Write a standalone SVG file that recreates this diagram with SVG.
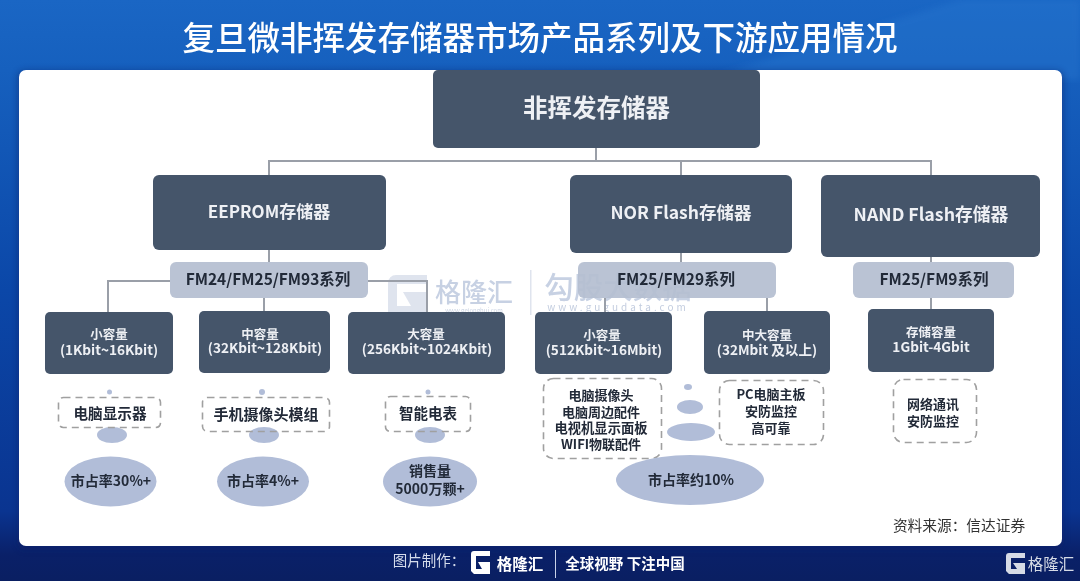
<svg xmlns="http://www.w3.org/2000/svg" width="1080" height="581" viewBox="0 0 1080 581">
<style>
text{font-family:"Noto Sans CJK SC","Noto Sans",sans-serif;text-anchor:middle}
.dark{fill:#44546a}
.ser{fill:#b5bed1;fill-opacity:.93}
.ell{fill:#b1bdd8}
.dash{fill:none;stroke:#a0a0a0;stroke-width:1.6;stroke-dasharray:7 5}
.w{fill:#eef0f4;font-weight:700}
.k{fill:#222a38;font-weight:700}
.line{fill:none;stroke:#9a9fa8;stroke-width:2}
.s12{font-size:12.5px}
.s13{font-size:13.6px}
.s15{font-size:15.5px}
.s14{font-size:14px}
.s17{font-size:17.5px}
.mark{fill:#8fa3c8;font-weight:500;opacity:.5}
</style>
<defs>
<linearGradient id="bg" x1="0" y1="0" x2="0" y2="1">
<stop offset="0" stop-color="#1a66c4"/><stop offset="0.12" stop-color="#1660be"/><stop offset="0.5" stop-color="#0b47a8"/><stop offset="0.88" stop-color="#0a3490"/><stop offset="0.955" stop-color="#0a2068"/><stop offset="1" stop-color="#0a1f62"/>
</linearGradient>
<filter id="soft" x="-2%" y="-2%" width="104%" height="104%"><feGaussianBlur stdDeviation="0.55"/></filter>
<filter id="shadow" x="-3%" y="-3%" width="106%" height="106%"><feGaussianBlur stdDeviation="3"/></filter>
</defs>
<rect width="1080" height="581" fill="url(#bg)"/>
<polygon points="700,80 960,0 1080,0 1080,80" fill="#2a7ad2" opacity="0.35" filter="url(#shadow)"/>
<text id="title" x="540" y="50" fill="#fff" font-size="32.5" font-weight="500" filter="url(#soft)">复旦微非挥发存储器市场产品系列及下游应用情况</text>
<rect x="17" y="70" width="1047" height="480" rx="8" fill="#0a1f62" opacity="0.4" filter="url(#shadow)"/>
<rect id="card" x="19" y="70" width="1043" height="476" rx="7" fill="#fff"/>
<g id="watermark" filter="url(#soft)">
<path d="M388 283a8 8 0 0 1 8-8h31v9h-30v22h14l-8-14h24v23h-39l-0-1z" fill="#b8c4da" opacity=".45"/>
<text class="mark" x="474" y="302" font-size="26">格隆汇</text>
<text x="474" y="313" font-size="6" fill="#aab8d2" opacity=".6">www.gelonghui.com</text>
<rect x="530" y="270" width="1.500" height="45" fill="#dfe4ee"/>
<text class="mark" x="618" y="298" font-size="29.500">勾股大数据</text>
<text x="618" y="311" font-size="10" letter-spacing="3" fill="#aab8d2" opacity=".7">www.gugudata.com</text>
</g>
<g id="connectors" filter="url(#soft)">
<path class="line" d="M596 148V161M269 175V161H931V175M681 161V175M269 250V262M681 253V262M931 257V262M170 281H108V312M368 281H427V312M264 298V311M605 298V312M767 298V311M931 298V309"/>
</g>
<g filter="url(#soft)">
<g id="n-root"><rect class="dark" x="433" y="70" width="327" height="78" rx="5"/><text class="w" x="596.500" y="117" font-size="24.500">非挥发存储器</text></g>
<g id="n-eeprom"><rect class="dark" x="153" y="175" width="233" height="75" rx="6"/><text class="w" font-size="17" x="269" y="218">EEPROM存储器</text></g>
<g id="n-nor"><rect class="dark" x="570" y="175" width="222" height="78" rx="6"/><text class="w s17" x="681" y="219">NOR Flash存储器</text></g>
<g id="n-nand"><rect class="dark" x="821" y="175" width="219" height="82" rx="6"/><text class="w" font-size="17.800" x="931" y="221">NAND Flash存储器</text></g>
<g id="s-eeprom"><rect class="ser" x="170" y="262" width="198" height="36" rx="6"/><text class="k s15" x="268" y="285">FM24/FM25/FM93系列</text></g>
<g id="s-nor"><rect class="ser" x="578" y="262" width="198" height="36" rx="6"/><text class="k s15" x="676" y="285">FM25/FM29系列</text></g>
<g id="s-nand"><rect class="ser" x="853" y="262" width="161" height="36" rx="6"/><text class="k s15" x="934" y="285">FM25/FM9系列</text></g>
<g id="c-1"><rect class="dark" x="45" y="312" width="128" height="62" rx="5"/><text class="w s12" x="109" y="339">小容量</text><text class="w s13" x="109" y="355">(1Kbit~16Kbit)</text></g>
<g id="c-2"><rect class="dark" x="199" y="311" width="131" height="62" rx="5"/><text class="w s12" x="260" y="339">中容量</text><text class="w s13" x="265" y="353">(32Kbit~128Kbit)</text></g>
<g id="c-3"><rect class="dark" x="348" y="312" width="157" height="62" rx="5"/><text class="w s12" x="426" y="339">大容量</text><text class="w s13" x="427" y="354">(256Kbit~1024Kbit)</text></g>
<g id="c-4"><rect class="dark" x="535" y="312" width="137" height="62" rx="5"/><text class="w s12" x="602" y="340">小容量</text><text class="w s13" x="604" y="355">(512Kbit~16Mbit)</text></g>
<g id="c-5"><rect class="dark" x="704" y="311" width="126" height="63" rx="5"/><text class="w s12" x="767" y="340">中大容量</text><text class="w s13" x="767" y="355">(32Mbit 及以上)</text></g>
<g id="c-6"><rect class="dark" x="868" y="309" width="126" height="63" rx="5"/><text class="w s12" x="931" y="337">存储容量</text><text class="w s13" x="931" y="352">1Gbit-4Gbit</text></g>
<g id="bubbles-1"><circle class="ell" cx="109.500" cy="392" r="2.500"/><ellipse class="ell" cx="112" cy="435" rx="15" ry="8"/></g>
<g id="bubbles-2"><circle class="ell" cx="262" cy="392" r="3"/><ellipse class="ell" cx="264" cy="435" rx="15" ry="8"/></g>
<g id="bubbles-3"><circle class="ell" cx="428" cy="392" r="2.500"/><ellipse class="ell" cx="430" cy="435" rx="15" ry="8"/></g>
<g id="bubbles-4"><ellipse class="ell" cx="688" cy="387" rx="4" ry="3"/><ellipse class="ell" cx="690" cy="407" rx="13" ry="7"/><ellipse class="ell" cx="691" cy="432" rx="24" ry="9"/></g>
<g id="a-1"><rect class="dash" x="58.500" y="397.500" width="102" height="30" rx="5"/><text class="k" font-size="14.600" x="110" y="419">电脑显示器</text></g>
<g id="a-2"><rect class="dash" x="202.500" y="397.500" width="127" height="34" rx="5"/><text class="k" font-size="15" x="266" y="420">手机摄像头模组</text></g>
<g id="a-3"><rect class="dash" x="385.500" y="396.500" width="85" height="35" rx="5"/><text class="k" font-size="14.500" x="428" y="419">智能电表</text></g>
<g id="a-4"><rect class="dash" x="543.500" y="378.500" width="118" height="80" rx="10"/><text class="k" font-size="13" x="601" y="400">电脑摄像头</text><text class="k" font-size="13" x="601" y="417">电脑周边配件</text><text class="k" font-size="13.300" x="601" y="433">电视机显示面板</text><text class="k" font-size="13" x="601" y="449">WIFI物联配件</text></g>
<g id="a-5"><rect class="dash" x="719.500" y="380.500" width="104" height="64" rx="10"/><text class="k" font-size="13" x="771" y="399">PC电脑主板</text><text class="k" font-size="13" x="771" y="416">安防监控</text><text class="k" font-size="13" x="771" y="433">高可靠</text></g>
<g id="a-6"><rect class="dash" x="893.500" y="379.500" width="83" height="63" rx="10"/><text class="k" font-size="13" x="933" y="409">网络通讯</text><text class="k" font-size="13" x="933" y="426">安防监控</text></g>
<g id="m-1"><ellipse class="ell" cx="110.500" cy="481.500" rx="46" ry="25"/><text class="k s14" x="111" y="486">市占率30%+</text></g>
<g id="m-2"><ellipse class="ell" cx="263" cy="481.500" rx="46" ry="25"/><text class="k s14" x="263" y="486">市占率4%+</text></g>
<g id="m-3"><ellipse class="ell" cx="430" cy="481.500" rx="47" ry="25"/><text class="k s14" x="430" y="476">销售量</text><text class="k s14" x="430" y="494">5000万颗+</text></g>
<g id="m-4"><ellipse class="ell" cx="690" cy="480" rx="74" ry="25"/><text class="k s14" x="691" y="485">市占率约10%</text></g>
</g>
<text id="source" x="959" y="531" font-size="14.700" fill="#333" filter="url(#soft)">资料来源：信达证券</text>
<g id="footer" filter="url(#soft)">
<text x="429" y="566" font-size="14.500" fill="#d5dcec">图片制作：</text>
<path d="M471 554a3 3 0 0 1 3-3h16v5h-14v13h6l-4-7h12v12h-16l-3-3z" fill="#fff"/>
<text x="520" y="570" font-size="15.500" font-weight="700" fill="#fff">格隆汇</text>
<rect x="555" y="550" width="1" height="28" fill="#c8d2e8"/>
<text x="625" y="569" font-size="14.500" font-weight="700" fill="#fff">全球视野 下注中国</text>
<path d="M1006 556a3 3 0 0 1 3-3h16v5h-14v11h6l-4-6h12v11h-16l-3-3z" fill="#d6dbe6"/>
<text x="1051" y="570" font-size="15.500" fill="#d6dbe6">格隆汇</text>
</g>
</svg>
